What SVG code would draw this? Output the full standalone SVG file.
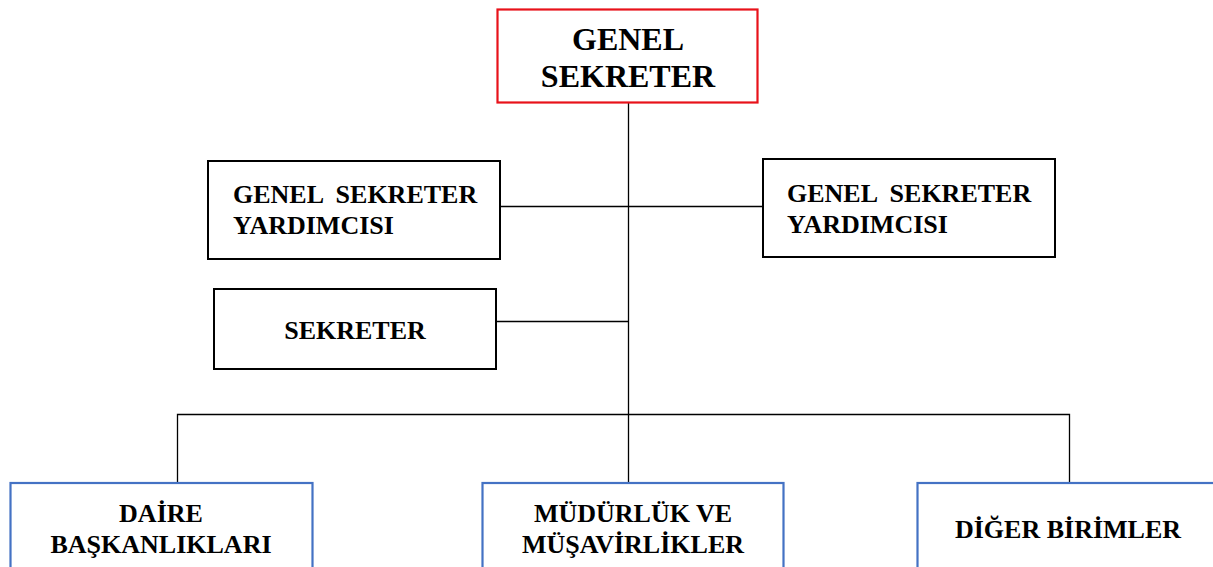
<svg xmlns="http://www.w3.org/2000/svg" width="1213" height="567" viewBox="0 0 1213 567">
<style>
.t{font-family:"Liberation Serif","Times New Roman",serif;font-weight:bold;fill:#000}
.b{fill:#fff;stroke:#000;stroke-width:2}
.r{fill:#fff;stroke:#e8121a;stroke-width:2.2}
.u{fill:#fff;stroke:#4472c4;stroke-width:2.2}
.c{fill:none;stroke:#000;stroke-width:1.3}
</style>
<rect width="1213" height="567" fill="#fff"/>
<g id="connectors">
<line class="c" x1="628.5" y1="103" x2="628.5" y2="483"/>
<line class="c" x1="501" y1="206.5" x2="763" y2="206.5"/>
<line class="c" x1="496" y1="321.5" x2="628.5" y2="321.5"/>
<polyline class="c" points="177.5,483 177.5,414.5 1069.5,414.5 1069.5,483"/>
</g>
<g id="genel-sekreter">
<rect class="r" x="497.5" y="9.5" width="260" height="93"/>
<text class="t" x="628" y="50" font-size="32" text-anchor="middle">GENEL</text>
<text class="t" x="628" y="87" font-size="32" text-anchor="middle">SEKRETER</text>
</g>
<g id="gsy-left">
<rect class="b" x="208" y="161" width="292" height="98"/>
<text class="t" x="233" y="203" font-size="26" xml:space="preserve">GENEL  SEKRETER</text>
<text class="t" x="233" y="234" font-size="26">YARDIMCISI</text>
</g>
<g id="gsy-right">
<rect class="b" x="763" y="159" width="292" height="98"/>
<text class="t" x="787" y="202" font-size="26" xml:space="preserve">GENEL  SEKRETER</text>
<text class="t" x="787" y="233" font-size="26">YARDIMCISI</text>
</g>
<g id="sekreter">
<rect class="b" x="214" y="289" width="282" height="80"/>
<text class="t" x="355" y="339" font-size="26" text-anchor="middle">SEKRETER</text>
</g>
<g id="daire">
<rect class="u" x="10.5" y="483" width="302" height="100"/>
<text class="t" x="161" y="522" font-size="26" text-anchor="middle">DAİRE</text>
<text class="t" x="161" y="553" font-size="26" text-anchor="middle">BAŞKANLIKLARI</text>
</g>
<g id="mudurluk">
<rect class="u" x="482.5" y="483" width="301" height="100"/>
<text class="t" x="633" y="522" font-size="26" text-anchor="middle">MÜDÜRLÜK VE</text>
<text class="t" x="633" y="553" font-size="26" text-anchor="middle">MÜŞAVİRLİKLER</text>
</g>
<g id="diger">
<rect class="u" x="917.5" y="483" width="310" height="100"/>
<text class="t" x="1068" y="538" font-size="26" text-anchor="middle">DİĞER BİRİMLER</text>
</g>
</svg>
